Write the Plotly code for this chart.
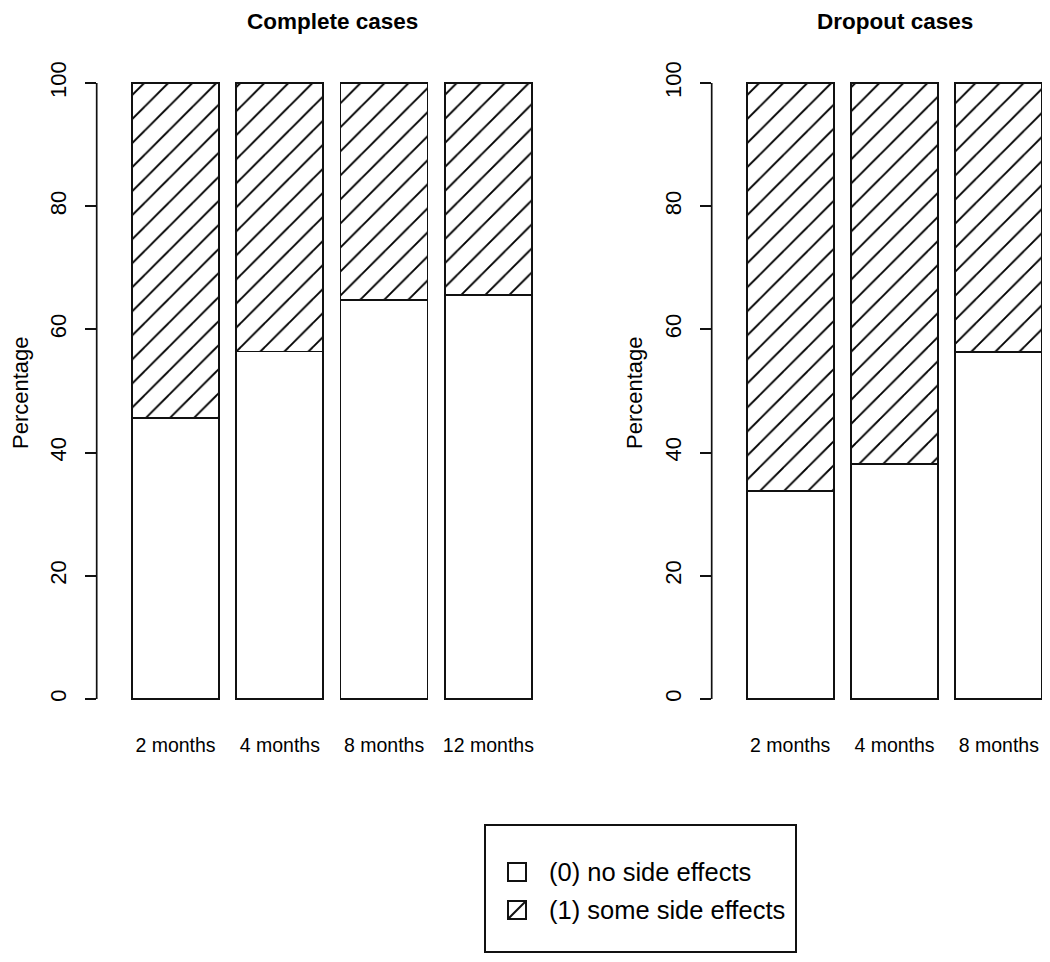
import plotly.graph_objects as go

# ---------------- data ----------------
complete_months = ["2 months", "4 months", "8 months", "12 months"]
complete_no_side = [45.6, 56.4, 64.8, 65.6]
complete_some_side = [54.4, 43.6, 35.2, 34.4]

dropout_months = ["2 months", "4 months", "8 months"]
dropout_no_side = [33.8, 38.1, 56.3]
dropout_some_side = [66.2, 61.9, 43.7]

y_ticks = [0, 20, 40, 60, 80, 100]
panel_titles = ["Complete cases", "Dropout cases"]
legend_labels = ["(0) no side effects", "(1) some side effects"]

# ---------------- layout helpers (page pixels) ----------------
OFF = 8                      # default body margin of the html page
FW, FH = 1050 - 2 * OFF, 962 - 2 * OFF
FONT = "Liberation Sans, Arial, Helvetica, sans-serif"

def px_x(p):
    return (p - OFF) / FW

def px_y(p):
    return 1 - (p - OFF) / FH

# y scale: value 0 at page y=699, value 100 at page y=83
Y0, Y100 = 699.0, 83.0
k = (Y0 - Y100) / 100.0
ydom = [px_y(Y0 + 4 * k), px_y(Y100 - 4 * k)]

hatch = dict(shape="/", fgcolor="black", fgopacity=1, bgcolor="white",
             size=17, solidity=0.11)
line = dict(color="#111111", width=1.7)

fig = go.Figure()

panels = [
    (complete_months, complete_no_side, complete_some_side, "x", "y"),
    (dropout_months, dropout_no_side, dropout_some_side, "x2", "y2"),
]
for months, no_s, some_s, xa, ya in panels:
    fig.add_trace(go.Bar(x=months, y=no_s, xaxis=xa, yaxis=ya,
                         marker=dict(color="white", line=line),
                         name=legend_labels[0], showlegend=False))
    fig.add_trace(go.Bar(x=months, y=some_s, xaxis=xa, yaxis=ya,
                         marker=dict(color="white", line=line, pattern=hatch),
                         name=legend_labels[1], showlegend=False))

spacing = 104.3
axL, endL, c0L = 96.7, 548.0, 175.5
axR, endR, c0R = 711.7, 1042.0, 790.2

def xaxis_cfg(ax, end, c0, anchor):
    return dict(domain=[px_x(ax), px_x(end)], anchor=anchor,
                range=[(ax - c0) / spacing, (end - c0) / spacing],
                showline=False, showgrid=False, zeroline=False, ticks="",
                tickangle=0,
                tickfont=dict(family=FONT, size=19.5, color="black"),
                ticklabelstandoff=8, fixedrange=True)

def yaxis_cfg(anchor):
    return dict(domain=ydom, range=[-4, 104], anchor=anchor,
                tickvals=y_ticks, ticktext=[str(v) for v in y_ticks],
                ticks="outside", ticklen=11, tickwidth=1.6, tickcolor="#111111",
                tickangle=-90, tickfont=dict(family=FONT, size=22, color="black"),
                ticklabelstandoff=10,
                showline=False, showgrid=False, zeroline=False, fixedrange=True)

fig.update_layout(
    width=FW, height=FH, margin=dict(l=0, r=0, t=0, b=0),
    paper_bgcolor="white", plot_bgcolor="white",
    barmode="stack", bargap=0.166,
    xaxis=xaxis_cfg(axL, endL, c0L, "y"),
    xaxis2=xaxis_cfg(axR, endR, c0R, "y2"),
    yaxis=yaxis_cfg("x"),
    yaxis2=yaxis_cfg("x2"),
    showlegend=False,
)

shapes = []
for xref, yref in [("x domain", "y"), ("x2 domain", "y2")]:
    shapes.append(dict(type="line", xref=xref, yref=yref, x0=0, x1=0, y0=0, y1=100,
                       line=dict(color="#111111", width=1.7)))

annotations = []
for title, cx in zip(panel_titles, [332.5, 894.5]):
    annotations.append(dict(text="<b>" + title + "</b>", x=px_x(cx), y=px_y(21),
                            xref="paper", yref="paper", showarrow=False,
                            xanchor="center", yanchor="middle",
                            font=dict(family=FONT, size=22.5, color="black")))
for cx in [20, 634]:
    annotations.append(dict(text="Percentage", x=px_x(cx), y=px_y(393),
                            xref="paper", yref="paper", showarrow=False, textangle=-90,
                            xanchor="center", yanchor="middle",
                            font=dict(family=FONT, size=22, color="black")))

# legend box
shapes.append(dict(type="rect", xref="paper", yref="paper",
                   x0=px_x(485), x1=px_x(796), y0=px_y(825), y1=px_y(952),
                   line=dict(color="#111111", width=2), fillcolor="white", layer="below"))
for i, (lab, cy) in enumerate(zip(legend_labels, [872, 910])):
    shapes.append(dict(type="rect", xref="paper", yref="paper",
                       x0=px_x(508), x1=px_x(526), y0=px_y(cy - 9), y1=px_y(cy + 9),
                       line=dict(color="#111111", width=2), fillcolor="white"))
    if i == 1:
        shapes.append(dict(type="line", xref="paper", yref="paper",
                           x0=px_x(508), x1=px_x(526), y0=px_y(cy + 9), y1=px_y(cy - 9),
                           line=dict(color="#111111", width=2)))
    annotations.append(dict(text=lab, x=px_x(547), y=px_y(cy), xref="paper", yref="paper",
                            showarrow=False, xanchor="left", yanchor="middle",
                            font=dict(family=FONT, size=25.5, color="black")))

fig.update_layout(shapes=shapes, annotations=annotations)
fig.write_html("out.html")
